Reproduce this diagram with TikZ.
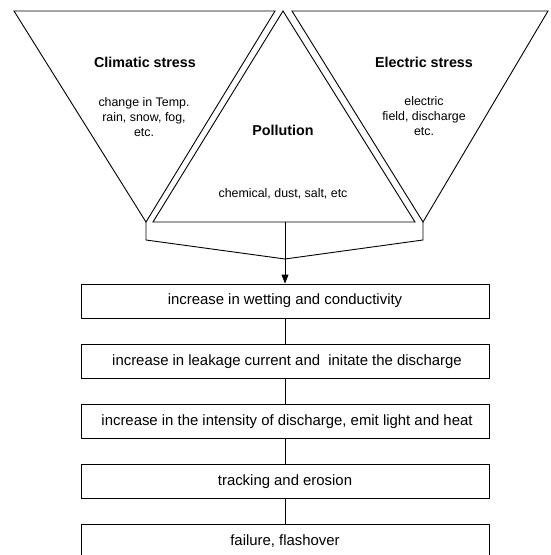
\documentclass[tikz,border=0pt]{standalone}
\usepackage{fontspec}
\setmainfont{Liberation Sans}
\usetikzlibrary{arrows.meta}
\begin{document}
\begin{tikzpicture}[x=1pt,y=-1pt, line width=0.9pt, line join=miter,
  boxnode/.style={draw, minimum width=408pt, minimum height=34pt, inner sep=0pt, font=\fontsize{14.9}{17}\selectfont},
  titletext/.style={font=\bfseries\fontsize{14.3}{17}\selectfont, inner sep=0pt},
  subtext/.style={align=center, inner sep=0pt, font=\fontsize{12.4}{15}\selectfont},
  arrowlink/.style={-{Triangle[length=9pt,width=7pt]}}
]
\useasboundingbox (0,0) rectangle (550,555);
\clip (0,0) rectangle (550,555);
% triangle corners
\coordinate (L1) at (14,11);  \coordinate (L2) at (275,11);  \coordinate (LA) at (146,222);
\coordinate (MA) at (283,11); \coordinate (M1) at (153,222); \coordinate (M2) at (415,222);
\coordinate (R1) at (292,11); \coordinate (R2) at (548,11);  \coordinate (RA) at (423,222);
\coordinate (MB) at (285,222);
\coordinate (J) at (285,259);
\draw (L1) -- (L2) -- (LA) -- cycle;
\draw (MA) -- (M2) -- (M1) -- cycle;
\draw (R1) -- (R2) -- (RA) -- cycle;
% texts in triangles
\node[titletext] (ct) at (145,62) {Climatic stress};
\node[subtext] (cs) at (144,117) {change in Temp.\\rain, snow, fog,\\etc.};
\node[titletext] (pt) at (283,130) {Pollution};
\node[subtext] (ps) at (283,194) {chemical, dust, salt, etc};
\node[titletext] (et) at (424,62) {Electric stress};
\node[subtext] (es) at (424,116) {electric\\field, discharge\\etc.};
% boxes
\node[boxnode] (b1) at (285,301) {increase in wetting and conductivity};
\node[boxnode] (b2) at (285,361.5) {\hspace{4pt}increase in leakage current and\ \ initate the discharge};
\node[boxnode] (b3) at (285,421.5) {\hspace{4pt}increase in the intensity of discharge, emit light and heat};
\node[boxnode] (b4) at (285,481.5) {tracking and erosion};
\node[boxnode] (b5) at (285,541) {failure, flashover};
% connectors
\draw (LA) -- ++(0,18) -- (J);
\draw (RA) -- ++(0,18) -- (J);
\draw[arrowlink] (MB) -- (b1.north);
\draw (b1.south) -- (b2.north);
\draw (b2.south) -- (b3.north);
\draw (b3.south) -- (b4.north);
\draw (b4.south) -- (b5.north);
\end{tikzpicture}
\end{document}
